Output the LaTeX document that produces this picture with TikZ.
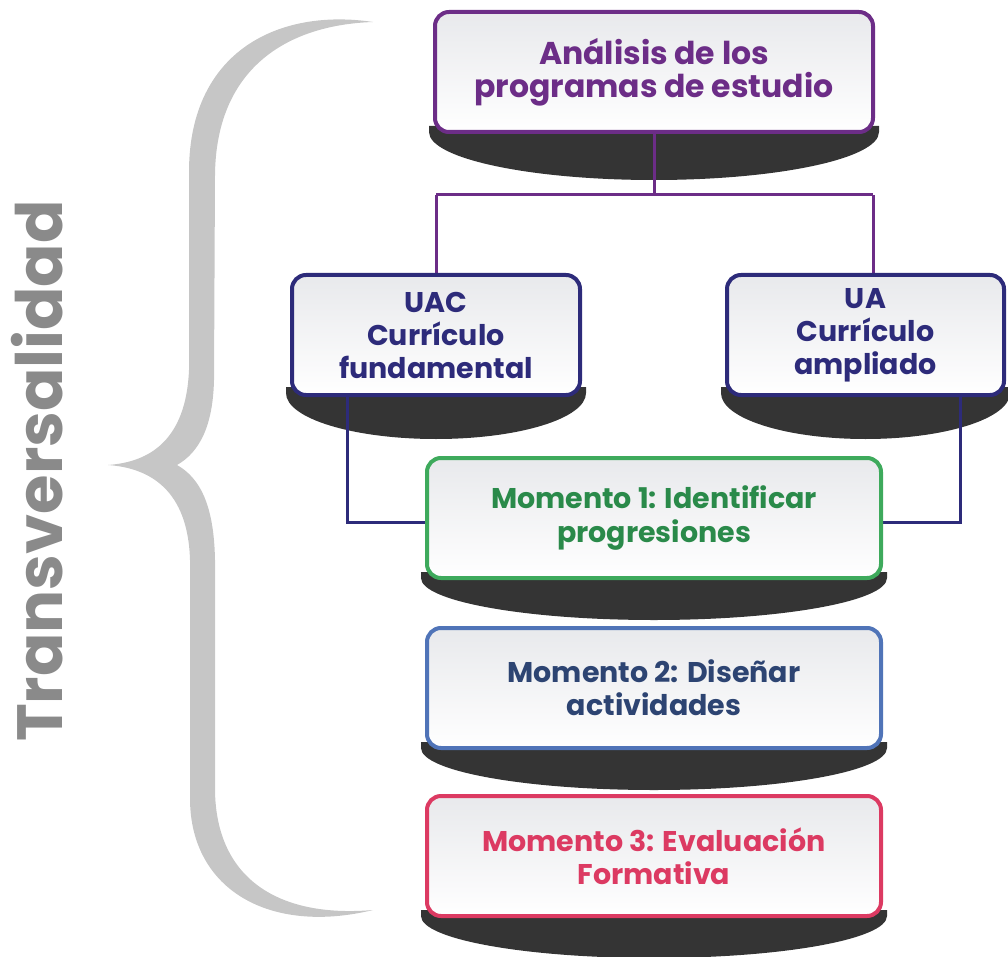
\documentclass[tikz,border=0pt]{standalone}
\usepackage{fontspec}
\setmainfont{Poppins}
\usetikzlibrary{calc}
\pgfdeclarelayer{shadowlayer}
\pgfdeclarelayer{linelayer}
\pgfsetlayers{shadowlayer,linelayer,main}
\definecolor{purp}{RGB}{108,45,135}
\definecolor{navy}{RGB}{45,43,122}
\definecolor{grn}{RGB}{62,170,92}
\definecolor{grntxt}{RGB}{42,138,74}
\definecolor{blu}{RGB}{80,116,184}
\definecolor{blutxt}{RGB}{45,68,114}
\definecolor{rd}{RGB}{220,58,98}
\definecolor{shadowc}{RGB}{52,52,52}
\definecolor{bracec}{RGB}{198,198,198}
\definecolor{transc}{RGB}{138,138,138}
\definecolor{boxtop}{RGB}{232,233,236}
\newcommand{\dropshadow}[4]{%
  \fill[shadowc] (#1-6,-#3+6) -- (#2+6,-#3+6) -- (#2+6,-#3)
    arc[start angle=0,end angle=-180,x radius={(#2-#1)/2+6},y radius=#4] -- cycle;}
\begin{document}
\begin{tikzpicture}[x=1pt,y=1pt,
  box/.style={draw, line width=4pt, rounded corners=14pt, top color=boxtop,
    bottom color=white, align=center, inner sep=0pt, minimum height=120pt,
    font=\fontsize{28.5}{33}\selectfont\bfseries},
  conn/.style={line width=3pt}]
\useasboundingbox (0,0) rectangle (1008,-957);

% brace
\fill[bracec] (373,-22) .. controls (280,-8) and (190,-50) .. (189,-170)
  -- (189,-370) .. controls (186,-440) and (150,-462) .. (108,-465)
  .. controls (150,-468) and (188,-490) .. (190,-560)
  -- (190,-800) .. controls (191,-890) and (270,-935) .. (373,-910)
  .. controls (280,-918) and (216,-880) .. (215,-790)
  -- (215,-560) .. controls (214,-505) and (200,-478) .. (177,-465)
  .. controls (200,-452) and (213,-425) .. (214,-380)
  -- (215,-175) .. controls (216,-70) and (285,-25) .. (373,-22) -- cycle;

\node[text=transc, rotate=90, anchor=base, font=\fontsize{64}{66}\selectfont\bfseries]
  (trans) at (62,-471) {Transversalidad};

% boxes
\node[box, draw=purp, text=purp, minimum width=438pt, font=\fontsize{31.5}{33}\selectfont\bfseries]
  (top) at (654,-72) {Análisis de los\\programas de estudio};
\node[box, draw=navy, text=navy, minimum width=288pt] (uac) at (436,-335)
  {UAC\\Currículo\\fundamental};
\node[box, draw=navy, text=navy, minimum width=277pt] (ua) at (865.5,-335)
  {UA\\Currículo\\ampliado};
\node[box, draw=grn, text=grntxt, minimum width=454pt] (m1) at (654,-518)
  {Momento 1: Identificar\\progresiones};
\node[box, draw=blu, text=blutxt, minimum width=454pt] (m2) at (654,-688)
  {Momento 2: Diseñar\\actividades};
\node[box, draw=rd, text=rd, minimum width=454pt] (m3) at (654,-856)
  {Momento 3: Evaluación\\Formativa};

\begin{pgfonlayer}{shadowlayer}
  \dropshadow{435}{873}{132}{48}
  \dropshadow{292}{580}{393}{46}
  \dropshadow{727}{1004}{393}{46}
  \dropshadow{427}{881}{578}{42}
  \dropshadow{427}{881}{748}{42}
  \dropshadow{427}{881}{916}{42}
\end{pgfonlayer}

\begin{pgfonlayer}{linelayer}
  \coordinate (jl) at (436,-195);
  \coordinate (jr) at (873,-195);
  \draw[conn, purp] (top.south) -- (top.south |- jl);
  \draw[conn, purp] (jl) -- (jr);
  \draw[conn, purp] (jl) -- (jl |- uac.north);
  \draw[conn, purp] (jr) -- (jr |- ua.north);
  \coordinate (ul) at (347,-522);
  \coordinate (ur) at (960,-522);
  \draw[conn, navy] (ul |- uac.south) -- (ul) -- (m1.west |- ul);
  \draw[conn, navy] (ur |- ua.south) -- (ur) -- (m1.east |- ur);
\end{pgfonlayer}
\end{tikzpicture}
\end{document}
